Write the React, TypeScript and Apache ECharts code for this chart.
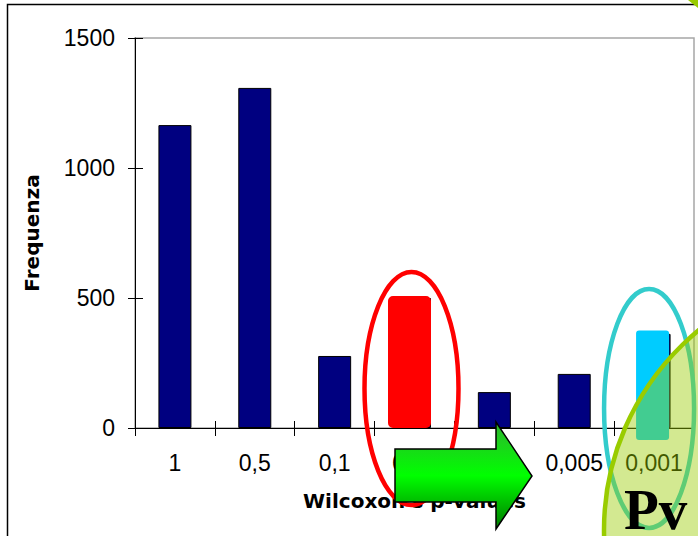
import React, { useEffect, useRef } from "react";
import * as echarts from "echarts";

const categories = ["1", "0,5", "0,1", "0,05", "0,01", "0,005", "0,001"];
const frequencies = [1165, 1308, 277, 500, 138, 208, 362];
const yMin = 0;
const yMax = 1500;
const yInterval = 500;
const xTitle = "Wilcoxon's p-values";
const yTitle = "Frequenza";
const redHighlight = { index: 3, value: 508 };
const cyanHighlight = { index: 6, top: 375, bottom: -46 };

export default function App() {
  const ref = useRef<HTMLDivElement>(null);

  useEffect(() => {
    const chart = echarts.init(ref.current!, null, { renderer: "svg" });
    const labelFont = {
      fontFamily: "'Liberation Sans', Arial, sans-serif",
      fontSize: 23,
      color: "#000",
    };
    const titleFont = {
      fontFamily: "'DejaVu Sans', sans-serif",
      fontWeight: "bold",
      fontSize: 20,
      color: "#000",
    };
    const gridLeft = 135;
    const gridRight = 4;
    chart.setOption({
      animation: false,
      grid: {
        left: gridLeft,
        right: gridRight,
        top: 38,
        bottom: 108,
        show: true,
        borderColor: "#A6A6A6",
        borderWidth: 1.5,
        backgroundColor: "transparent",
      },
      xAxis: [
        {
          type: "category",
          data: categories,
          position: "bottom",
          axisLine: { lineStyle: { color: "#000", width: 1 } },
          axisTick: { show: true, length: 8, interval: 0, lineStyle: { color: "#000" } },
          axisLabel: { ...labelFont, margin: 23, interval: 0 },
        },
        {
          type: "category",
          data: categories,
          position: "bottom",
          axisLine: { show: false },
          axisTick: { show: true, inside: true, length: 7, interval: 0, lineStyle: { color: "#000" } },
          axisLabel: { show: false },
        },
      ],
      yAxis: [
        {
          type: "value",
          min: yMin,
          max: yMax,
          interval: yInterval,
          position: "left",
          axisLine: { show: true, lineStyle: { color: "#000", width: 1 } },
          axisTick: { show: true, length: 7, lineStyle: { color: "#000" } },
          axisLabel: { ...labelFont, margin: 20, formatter: (v: number) => String(v) },
          splitLine: { show: false },
          name: yTitle,
          nameLocation: "middle",
          nameRotate: 90,
          nameGap: 93,
          nameMoveOverlap: false,
          nameTextStyle: titleFont,
        },
        {
          type: "value",
          min: yMin,
          max: yMax,
          interval: yInterval,
          position: "left",
          axisLine: { show: false },
          axisTick: { show: true, inside: true, length: 8, lineStyle: { color: "#000" } },
          axisLabel: { show: false },
          splitLine: { show: false },
        },
      ],
      series: [
        {
          type: "bar",
          data: frequencies,
          barWidth: 33,
          xAxisIndex: 0,
          yAxisIndex: 0,
          itemStyle: { color: "#000080", borderColor: "#000", borderWidth: 1 },
        },
      ],
    });

    const px = (i: number, v: number) =>
      chart.convertToPixel({ seriesIndex: 0 }, [i, v]) as number[];

    const [redCx, redTop] = px(redHighlight.index, redHighlight.value);
    const [, base] = px(redHighlight.index, 0);
    const [cyanCx, cyanTop] = px(cyanHighlight.index, cyanHighlight.top);
    const [, cyanBottom] = px(cyanHighlight.index, cyanHighlight.bottom);
    const axisMidX = (gridLeft + (chart.getWidth() - gridRight)) / 2;

    chart.setOption({
      graphic: [
        {
          type: "text",
          z: 50,
          style: {
            text: xTitle,
            x: axisMidX,
            y: base + 73,
            font: "bold 20px 'DejaVu Sans', sans-serif",
            fill: "#000",
            textAlign: "center",
            textVerticalAlign: "middle",
          },
        },
        {
          type: "rect",
          z: 100,
          shape: { x: 7.5, y: 4.5, width: 720, height: 560 },
          style: { fill: "none", stroke: "#000", lineWidth: 1.5 },
        },
        {
          type: "rect",
          z: 101,
          shape: { x: redCx - 26.5, y: redTop, width: 43, height: base - redTop, r: 5 },
          style: { fill: "#FF0000" },
        },
        {
          type: "ellipse",
          z: 102,
          shape: { cx: redCx - 3, cy: 388.5, rx: 47, ry: 116.5 },
          style: { fill: "none", stroke: "#FF0000", lineWidth: 4.5 },
        },
        {
          type: "polygon",
          z: 103,
          shape: {
            points: [
              [395, 449],
              [496, 449],
              [496, 422],
              [532, 476],
              [496, 529],
              [496, 502],
              [395, 502],
            ],
          },
          style: {
            fill: new echarts.graphic.LinearGradient(0, 0, 0, 1, [
              { offset: 0, color: "#2FB52F" },
              { offset: 0.5, color: "#00FF00" },
              { offset: 1, color: "#007A00" },
            ]),
            stroke: "#000",
            lineWidth: 1.5,
          },
        },
        {
          type: "rect",
          z: 104,
          shape: { x: cyanCx - 18, y: cyanTop, width: 33, height: cyanBottom - cyanTop, r: 3 },
          style: { fill: "#00CCFF" },
        },
        {
          type: "ellipse",
          z: 105,
          shape: { cx: cyanCx - 5, cy: 408.5, rx: 45, ry: 119.5 },
          style: { fill: "none", stroke: "#33CCCC", lineWidth: 4.5 },
        },
        {
          type: "ellipse",
          z: 106,
          shape: { cx: 872, cy: 530, rx: 268, ry: 262 },
          style: { fill: "rgba(153,204,0,0.43)", stroke: "#99CC00", lineWidth: 4.5 },
        },
        {
          type: "polygon",
          z: 106,
          shape: { points: [[688, 0], [698, 0], [698, 8]] },
          style: { fill: "#99CC00" },
        },
        {
          type: "text",
          z: 107,
          style: {
            text: "Pv",
            x: 624,
            y: 509,
            font: "bold 57px 'Liberation Serif', 'Times New Roman', serif",
            lineHeight: 48,
            fill: "#000",
            textAlign: "left",
            textVerticalAlign: "middle",
            shadowColor: "#9A9A9A",
            shadowOffsetX: 3,
            shadowOffsetY: 3,
            shadowBlur: 1,
          },
        },
      ],
    });

    return () => chart.dispose();
  }, []);

  return (
    <div
      ref={ref}
      style={{ position: "fixed", left: 0, top: 0, width: 698, height: 536, background: "#fff" }}
    />
  );
}
